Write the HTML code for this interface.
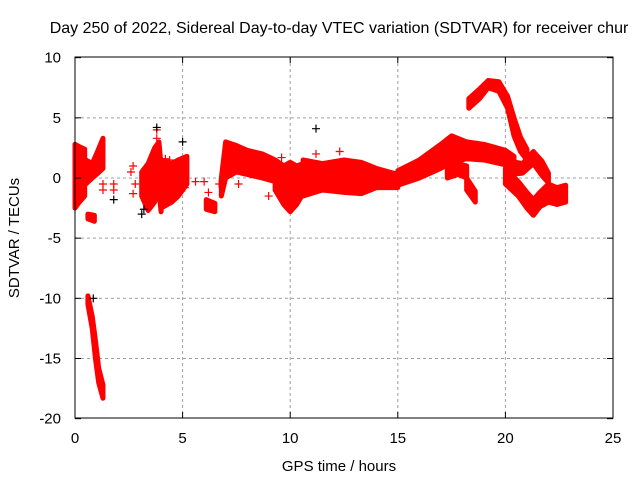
<!DOCTYPE html>
<html><head><meta charset="utf-8"><style>
body{margin:0;background:#fff}
svg{display:block;font-family:"Liberation Sans",sans-serif}
</style></head><body>
<svg id="c" width="640" height="480">
<rect x="0" y="0" width="640" height="480" fill="#fff"/>
<text x="339" y="33" font-size="16" text-anchor="middle" fill="#000">Day 250 of 2022, Sidereal Day-to-day VTEC variation (SDTVAR) for receiver chur</text>
<text x="339" y="471" font-size="15" text-anchor="middle">GPS time / hours</text>
<text transform="translate(19,238) rotate(-90)" font-size="15" text-anchor="middle">SDTVAR / TECUs</text>
<g id="grid"></g><g id="marks"></g><g id="axes"></g>
</svg>
<script>
const xTicks=[0,5,10,15,20,25];
const yTicks=[10,5,0,-5,-10,-15,-20];
// bands: [hour, low, high]
const band1=[[0,-2.5,2.8],[0.2,-2,2.6],[0.45,-1.5,2.4]];
const band2=[[0.5,-0.5,1.5],[0.8,0,1.2],[1.0,0.3,2],[1.3,0.8,3.3]];
const band3=[[0.6,-3.4,-3],[0.9,-3.6,-3.1]];
const band4=[[3.1,-1.5,0.5],[3.4,-2.7,1.2],[3.7,-2,2.5],[3.9,-1,3],[4.0,-2.8,1]];
const band5=[[4.0,-2.5,1.5],[4.5,-2,1.2],[4.8,-1.5,1.5],[5.2,-0.5,1.8]];
const band6=[[6.1,-2.6,-1.8],[6.5,-2.8,-2.1]];
const band7=[[6.8,-1.5,0],[7.0,0,3],[7.5,0.5,2.7],[8.0,0.3,2.3],[8.7,0,2],[9.3,-0.3,1.5]];
const band8=[[9.3,-1,1.5],[9.7,-2.2,1],[10.0,-2.8,1.3],[10.3,-2.2,1],[10.6,-1.3,1.2]];
const band9=[[10.6,-1.5,1.5],[11.5,-1,1.2],[12.5,-1.2,1.5],[13.3,-1.3,1.3],[14.0,-0.8,0.8],[15.0,-0.8,0.3]];
const band10=[[15,-0.6,0.6],[16,0,1.5],[17,0.8,2.8],[17.5,1.3,3.5],[18.2,1.6,3],[19,1.5,2.8],[20,1.1,2.3],[20.4,1,1.8]];
const band11=[[17.3,0,1],[17.8,0.3,1.2],[18.2,0,1]];
const band12=[[18.2,-1,0],[18.6,-2,-1.1]];
const band13=[[20.2,0.3,1.4],[20.8,0.4,1.2],[21.3,1.2,2.2],[21.7,0.2,1.4],[22.0,-0.4,0.4]];
const band14=[[20.0,-0.5,0.8],[20.6,-1.5,-0.3],[21.0,-2.5,-1.2],[21.3,-3.1,-1.8],[21.6,-2.4,-1.2],[22.0,-2,-0.5],[22.4,-2.2,-0.8],[22.8,-2,-0.6]];
const band15=[[18.3,5.8,6.6],[18.8,6.6,7.4],[19.2,7.5,8.1],[19.7,7.2,8],[20.1,5.8,6.8],[20.4,3.5,5],[20.7,2.2,3.4],[21.0,1.5,2.4]];
const band16=[[0.6,-10.5,-9.8],[0.8,-12.5,-11.5],[0.95,-15,-13.5],[1.1,-17,-15.8],[1.3,-18.3,-17.2]];
const bands=[band1,band2,band3,band4,band5,band6,band7,band8,band9,band10,band11,band12,band13,band14,band15,band16];
const redHours=[1.3,1.3,1.8,1.8,2.7,2.8,2.7,3.8,3.8,4.4,5.0,5.1,5.6,6.0,6.2,7.6,9.0,11.2,12.3,6.7,2.6,0.1,4.2,9.6];
const redValues=[-0.5,-1,-1,-0.5,1,-0.5,-1.3,4,3.3,1.5,1.2,-0.8,-0.3,-0.3,-1.2,-0.5,-1.5,2,2.2,-0.5,0.5,1.5,1.6,1.7];
const blackHours=[3.8,5.0,11.2,1.8,3.1,0.85,3.2];
const blackValues=[4.2,3,4.1,-1.8,-3,-10,-2.6];
const X=h=>75+h*(613-75)/25;
const Y=v=>178-v*(418-57)/30;
const NS='http://www.w3.org/2000/svg';
function mk(t,a,p){const e=document.createElementNS(NS,t);for(const k in a)e.setAttribute(k,a[k]);p.appendChild(e);return e;}
const grid=document.getElementById('grid'),marks=document.getElementById('marks'),axes=document.getElementById('axes');
xTicks.forEach(t=>{
 if(t>0&&t<25){const g=mk('line',{x1:X(t),x2:X(t),y1:57,y2:418,stroke:'#a0a0a0','stroke-dasharray':'3,3'},grid);
 
 }
 const tx=mk('text',{x:X(t),y:443,'font-size':15,'text-anchor':'middle'},axes);tx.textContent=t;
 
 
 mk('line',{x1:X(t),x2:X(t),y1:418,y2:412,stroke:'#000'},axes);
 mk('line',{x1:X(t),x2:X(t),y1:57,y2:63,stroke:'#000'},axes);
});
yTicks.forEach(t=>{
 if(t<10&&t>-20){const g=mk('line',{x1:75,x2:613,y1:Y(t),y2:Y(t),stroke:'#a0a0a0','stroke-dasharray':'3,3'},grid);
 
 }
 const tx=mk('text',{x:61,y:Y(t)+5,'font-size':15,'text-anchor':'end'},axes);tx.textContent=t;
 
 
 mk('line',{x1:75,x2:81,y1:Y(t),y2:Y(t),stroke:'#000'},axes);
 mk('line',{x1:613,x2:607,y1:Y(t),y2:Y(t),stroke:'#000'},axes);
});
const fr=mk('rect',{x:75,y:57,width:538,height:361,fill:'none',stroke:'#000'},axes);


function plus(h,v,col){const g=mk('path',{d:`M${X(h)-4},${Y(v)}h8M${X(h)},${Y(v)-4}v8`,stroke:col,'stroke-width':1.2},marks);return g;}
bands.forEach(b=>{
 const top=b.map(p=>X(p[0])+','+Y(p[2])).join(' ');
 const bot=b.slice().reverse().map(p=>X(p[0])+','+Y(p[1])).join(' ');
 const pg=mk('polygon',{points:top+' '+bot,fill:'#f00',stroke:'#f00','stroke-width':5,'stroke-linejoin':'round'},marks);
 
 
});
redHours.forEach((h,i)=>{const p=plus(h,redValues[i],'#f00');
 
 });
blackHours.forEach((h,i)=>{const p=plus(h,blackValues[i],'#000');
 
 });
</script>
</body></html>
